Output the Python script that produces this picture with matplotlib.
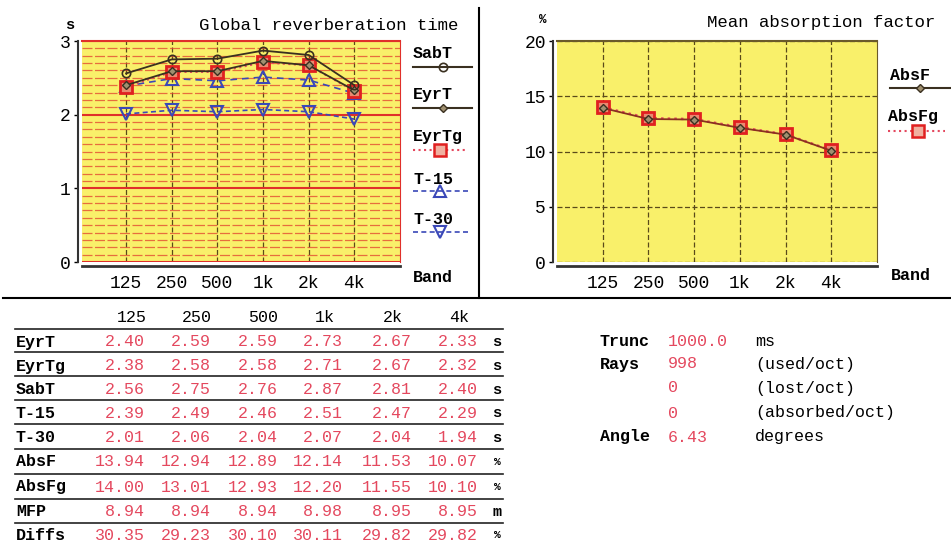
import matplotlib.pyplot as plt
import numpy as np
from matplotlib.lines import Line2D

bands = ['125', '250', '500', '1k', '2k', '4k']
eyrt = [2.40, 2.59, 2.59, 2.73, 2.67, 2.33]
eyrtg = [2.38, 2.58, 2.58, 2.71, 2.67, 2.32]
sabt = [2.56, 2.75, 2.76, 2.87, 2.81, 2.40]
t15 = [2.39, 2.49, 2.46, 2.51, 2.47, 2.29]
t30 = [2.01, 2.06, 2.04, 2.07, 2.04, 1.94]
absf = [13.94, 12.94, 12.89, 12.14, 11.53, 10.07]
absfg = [14.00, 13.01, 12.93, 12.20, 11.55, 10.10]
mfp = [8.94, 8.94, 8.94, 8.98, 8.95, 8.95]
diffs = [30.35, 29.23, 30.10, 30.11, 29.82, 29.82]

row_names = ['EyrT', 'EyrTg', 'SabT', 'T-15', 'T-30', 'AbsF', 'AbsFg', 'MFP', 'Diffs']
row_units = ['s', 's', 's', 's', 's', '%', '%', 'm', '%']
info_labels = ['Trunc', 'Rays', '', '', 'Angle']
info_values = ['1000.0', '998', '0', '0', '6.43']
info_units = ['ms', '(used/oct)', '(lost/oct)', '(absorbed/oct)', 'degrees']

W, H = 951, 544
MONO = 'Liberation Mono'
RED = '#e4485e'
DARK = '#3a3020'
BLUE = '#3a48b8'
YELLOW = '#f9f06a'


def fx(x):
    return x / W


def fy(y):
    return 1 - y / H


def txt(x, y, s, **kw):
    kw.setdefault('family', MONO)
    kw.setdefault('size', 12)
    kw.setdefault('va', 'center')
    fig.text(fx(x), fy(y), s, **kw)


def legend_item(x0, x1, xm, y, ty, label, color, ls, lw, marker, ms, mfc, mec, mew):
    txt(x0, ty, label, weight='bold')
    fig.add_artist(Line2D([fx(x0), fx(x1)], [fy(y), fy(y)], color=color, ls=ls, lw=lw))
    fig.add_artist(Line2D([fx(xm)], [fy(y)], marker=marker, ms=ms, mfc=mfc, mec=mec, mew=mew, ls='none'))


fig = plt.figure(figsize=(W / 100, H / 100), dpi=100)
x = np.arange(len(bands))

# ---- left plot: reverberation time
ax1 = fig.add_axes([fx(82), fy(262), 318 / W, 221 / H])
ax1.set_facecolor(YELLOW)
ax1.set_xlim(-0.965, 6.0)
ax1.set_ylim(0, 3)
ax1.set_yticks([0, 1, 2, 3])
ax1.set_yticks(np.arange(0, 3.001, 0.1), minor=True)
ax1.grid(which='minor', axis='y', color='#e2432f', lw=0.9, ls=(0, (8, 2)), alpha=0.75)
ax1.grid(which='major', axis='y', color='#e0302a', lw=1.5)
ax1.grid(which='major', axis='x', color='#5a4a1a', lw=0.9, ls=(0, (4, 2)))
ax1.set_axisbelow(True)

ax1.plot(x, t30, color=BLUE, ls=(0, (3, 2)), lw=1.2, marker='v', ms=8, mfc='none', mec=BLUE, mew=1.5)
ax1.plot(x, t15, color=BLUE, ls=(0, (4, 3)), lw=1.2, marker='^', ms=8, mfc='none', mec=BLUE, mew=1.5)
ax1.plot(x, eyrtg, color=RED, ls=':', lw=1.5, marker='s', ms=9, mfc='#e88a70', mec='#e02020', mew=2)
ax1.plot(x, eyrt, color=DARK, ls='-', lw=1.3, marker='D', ms=4, mfc='#a09070', mec=DARK)
ax1.plot(x, sabt, color=DARK, ls='-', lw=1.3, marker='o', ms=6, mfc='none', mec=DARK, mew=1.2)

# ---- right plot: absorption factor
ax2 = fig.add_axes([fx(557), fy(262), 320 / W, 221 / H])
ax2.set_facecolor(YELLOW)
ax2.set_xlim(-1.0, 6.0)
ax2.set_ylim(0, 20)
ax2.set_yticks([0, 5, 10, 15, 20])
ax2.grid(color='#5a4a1a', lw=0.9, ls=(0, (4, 2)))
ax2.set_axisbelow(True)
ax2.plot(x, absfg, color=RED, ls=':', lw=1.8, marker='s', ms=9, mfc='#e88a70', mec='#e02020', mew=2)
ax2.plot(x, absf, color='#8a3020', ls='-', lw=1.3, marker='D', ms=4, mfc='#a09070', mec=DARK)

for ax, top in ((ax1, '#e0302a'), (ax2, '#6a5a2a')):
    ax.set_xticks(x, bands)
    ax.tick_params(axis='x', length=0, pad=6)
    ax.tick_params(axis='y', length=3, pad=2, width=1)
    ax.tick_params(which='minor', length=0)
    ax.tick_params(labelfontfamily=MONO, labelsize=13)
    ax.spines['left'].set_position(('outward', 3))
    ax.spines['bottom'].set_position(('outward', 3))
    ax.spines['left'].set_color('#333333')
    ax.spines['bottom'].set_color('#333333')
    ax.spines['left'].set_linewidth(1.5)
    ax.spines['bottom'].set_linewidth(2)
    ax.spines['top'].set_color(top)
    ax.spines['right'].set_color(top)
    ax.spines['top'].set_linewidth(1.5)

# titles and axis captions
txt(458, 25, 'Global reverberation time', ha='right', size=12.5)
txt(935, 23, 'Mean absorption factor', ha='right', size=12.5)
txt(70, 25, 's', ha='center', weight='bold', size=11)
txt(543, 20, '%', ha='center', weight='bold', size=9)
txt(413, 277, 'Band', weight='bold')
txt(891, 276, 'Band', weight='bold')

# legends
legend_item(413, 472, 443, 67, 54, 'SabT', DARK, '-', 1.5, 'o', 6, 'none', DARK, 1.2)
legend_item(413, 472, 443, 108, 95, 'EyrT', DARK, '-', 1.5, 'D', 4, '#a09070', DARK, 1)
legend_item(413, 468, 440, 150, 137, 'EyrTg', RED, ':', 1.5, 's', 8, '#f0b0a0', '#e02020', 1.8)
legend_item(413, 468, 440, 191, 179, 'T-15', BLUE, (0, (3, 2)), 1.2, '^', 8, 'none', BLUE, 1.5)
legend_item(413, 468, 440, 232, 219, 'T-30', BLUE, (0, (3, 2)), 1.2, 'v', 8, 'none', BLUE, 1.5)
legend_item(890, 950, 920, 88, 75, 'AbsF', DARK, '-', 1.5, 'D', 4, '#a09070', DARK, 1)
legend_item(888, 945, 918, 131, 117, 'AbsFg', RED, ':', 1.5, 's', 8, '#f0b0a0', '#e02020', 1.8)

# panel dividers
fig.add_artist(Line2D([fx(479), fx(479)], [fy(8), fy(298)], color='black', lw=1.5))
fig.add_artist(Line2D([fx(3), fx(951)], [fy(298), fy(298)], color='black', lw=1.5))

# ---- table
col_right = [145, 211, 278, 343, 412, 478]
col_head = [132, 197, 263, 325, 393, 459]
row_y = [342, 366, 390, 413, 438, 462, 487, 512, 535]
line_y = [329, 352, 376, 400, 424, 449, 474, 499, 523]
table = [eyrt, eyrtg, sabt, t15, t30, absf, absfg, mfp, diffs]

for cx, b in zip(col_head, bands):
    txt(cx, 318, b, ha='center')
for ly in line_y:
    fig.add_artist(Line2D([fx(15), fx(503)], [fy(ly), fy(ly)], color='#222222', lw=1.2))
for ry, name, unit, vals in zip(row_y, row_names, row_units, table):
    txt(16, ry, name, weight='bold')
    for cx, v in zip(col_right, vals):
        txt(cx, ry, '%.2f' % v, ha='right', color=RED)
    txt(497, ry, unit, ha='center', weight='bold', size=11 if unit != '%' else 8)

# ---- run info
info_y = [341, 364, 388, 413, 437]
for iy, lab, val, unit in zip(info_y, info_labels, info_values, info_units):
    if lab:
        txt(600, iy, lab, weight='bold')
    txt(668, iy, val, color=RED)
    txt(755, iy, unit)

fig.savefig('out.png', dpi=100)
